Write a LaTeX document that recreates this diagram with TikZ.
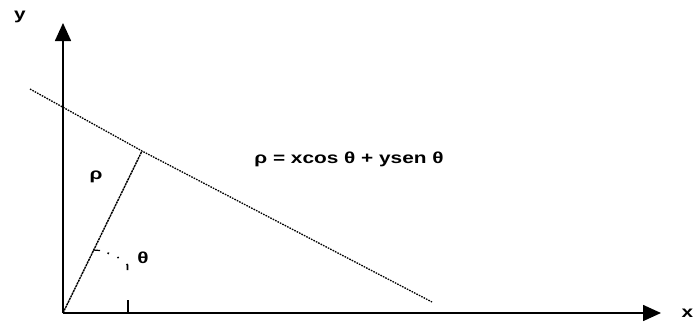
\documentclass[tikz,border=0pt]{standalone}
\usepackage{fontspec}
\setmainfont{Liberation Sans}[FakeStretch=1.3]
\usetikzlibrary{arrows.meta}
\begin{document}
\begin{tikzpicture}[x=1pt,y=-1pt,
  axis/.style={line width=1.6pt,-{Triangle[length=18pt,width=16pt]}},
  lbl/.style={font=\bfseries\fontsize{16}{18}\selectfont,inner sep=0pt},
  hline/.style={line width=1.3pt,dash pattern=on 1.6pt off 1.1pt},
  rholine/.style={line width=1.4pt,dash pattern=on 2.2pt off 0.7pt},
  tickmark/.style={line width=1.2pt},
  dotmark/.style={line width=1.6pt}]
\useasboundingbox (0,0) rectangle (694,325);
\coordinate (O) at (63,313);
\coordinate (Y) at (63,23);
\coordinate (X) at (661,313);
\coordinate (A) at (30,89);
\coordinate (B) at (432,302);
\coordinate (F) at (142,151);
\coordinate (T1) at (93,250);
\coordinate (T2) at (128,300);
\coordinate (T2b) at (128,313);
\draw[axis] (O) -- (Y);
\draw[axis] (O) -- (X);
\draw[hline] (A) -- (F) -- (B);
\draw[rholine] (O) -- (F);
\draw[tickmark] (T1) -- ++(7,0.5);
\draw[dotmark] (107.5,253) -- (109,253.5);
\draw[dotmark] (117.5,257) -- (118.5,258);
\draw[dotmark] (126.5,264) -- (127.5,265) -- (127.5,270);
\draw[tickmark] (T2) -- (T2b);
\node[lbl] (ylab) at (20,17) {y};
\node[lbl,anchor=east] (xlab) at (693.5,313) {x};
\node[lbl] (rholab) at (96,177) {ρ};
\node[lbl] (thlab) at (143,258) {θ};
\node[lbl] (eq) at (349,159) {ρ = xcos θ + ysen θ};
\end{tikzpicture}
\end{document}
